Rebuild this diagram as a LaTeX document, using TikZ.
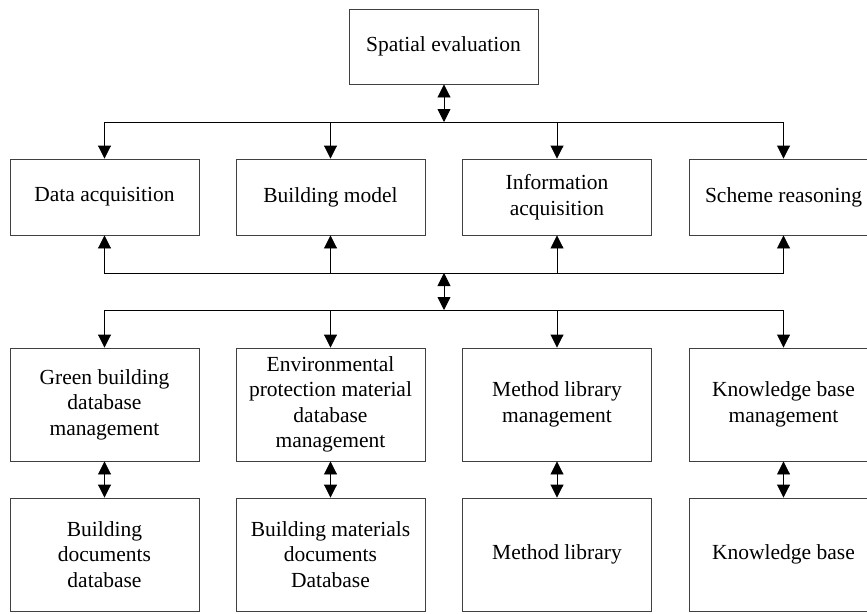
\documentclass[tikz,border=0pt]{standalone}
\usepackage{fontspec}
\setmainfont{Liberation Serif}
\usetikzlibrary{arrows.meta}
\begin{document}
\begin{tikzpicture}[x=1pt,y=-1pt,
  box/.style={draw=black!75,line width=0.9pt,minimum width=189pt,align=center,inner sep=2pt,
    font=\fontsize{21.5}{25.5}\selectfont},
  row1/.style={box,minimum height=75pt},
  row2/.style={box,minimum height=76pt},
  row3/.style={box,minimum height=113pt},
  conn/.style={line width=0.9pt,-{Triangle[length=13pt,width=13pt]}},
  dconn/.style={line width=0.9pt,{Triangle[length=13pt,width=13pt]}-{Triangle[length=13pt,width=13pt]}}]
\clip (0,0) rectangle (867,613);
\fill[white] (0,0) rectangle (867,613);
% top
\node[row1] (se) at (443.5,46.5) {Spatial evaluation};
% row 2
\node[row2] (da) at (104.5,197) {Data acquisition};
\node[row2] (bm) at (330.5,197) {Building model};
\node[row2] (ia) at (557,197) {Information\\acquisition};
\node[row2] (sr) at (783.5,197) {Scheme reasoning};
% row 3
\node[row3] (gb) at (104.5,404.5) {Green building\\database\\management};
\node[row3] (ep) at (330.5,404.5) {Environmental\\protection material\\database\\management};
\node[row3] (ml) at (557,404.5) {Method library\\management};
\node[row3] (kb) at (783.5,404.5) {Knowledge base\\management};
% row 4
\node[row3] (bd) at (104.5,554.5) {Building\\documents\\database};
\node[row3] (bmd) at (330.5,554.5) {Building materials\\documents\\Database};
\node[row3] (mlb) at (557,554.5) {Method library};
\node[row3] (kbb) at (783.5,554.5) {Knowledge base};
% junctions
\coordinate (j1) at (444,122);
\coordinate (j2) at (444,273);
\coordinate (j3) at (444,310);
\draw[dconn] (se.south -| j1) -- (j1);
\foreach \n in {da,bm,ia,sr}{\draw[conn] (j1) -| (\n.north);}
\foreach \n in {da,bm,ia,sr}{\draw[conn] (j2) -| (\n.south);}
\draw[dconn] (j2) -- (j3);
\foreach \n in {gb,ep,ml,kb}{\draw[conn] (j3) -| (\n.north);}
\draw[dconn] (gb.south) -- (bd.north);
\draw[dconn] (ep.south) -- (bmd.north);
\draw[dconn] (ml.south) -- (mlb.north);
\draw[dconn] (kb.south) -- (kbb.north);
\end{tikzpicture}
\end{document}
